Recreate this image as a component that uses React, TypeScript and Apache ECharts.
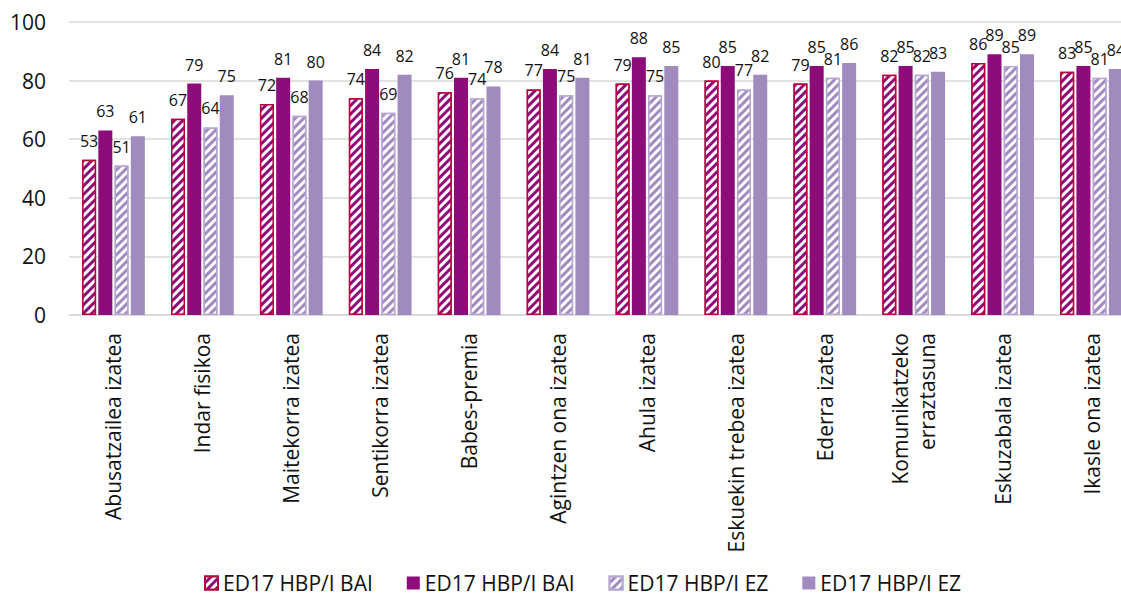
import React, { useEffect, useRef } from "react";
import * as echarts from "echarts";

const categories = [
  "Abusatzailea izatea",
  "Indar fisikoa",
  "Maitekorra izatea",
  "Sentikorra izatea",
  "Babes-premia",
  "Agintzen ona izatea",
  "Ahula izatea",
  "Eskuekin trebea izatea",
  "Ederra izatea",
  "Komunikatzeko\nerraztasuna",
  "Eskuzabala izatea",
  "Ikasle ona izatea",
];

// Legend texts (two pairs share a text); trailing spaces only keep series ids unique
const seriesNames = ["ED17 HBP/I BAI", "ED17 HBP/I BAI ", "ED17 HBP/I EZ", "ED17 HBP/I EZ "];

const baiHatched = [53, 67, 72, 74, 76, 77, 79, 80, 79, 82, 86, 83];
const baiSolid = [63, 79, 81, 84, 81, 84, 88, 85, 85, 85, 89, 85];
const ezHatched = [51, 64, 68, 69, 74, 75, 75, 77, 81, 82, 85, 81];
const ezSolid = [61, 75, 80, 82, 78, 81, 85, 82, 86, 83, 89, 84];

const yMin = 0;
const yMax = 100;
const yStep = 20;

export default function App() {
  const ref = useRef<HTMLDivElement>(null);
  useEffect(() => {
    document.body.style.margin = "0";
    document.body.style.overflow = "hidden";
    document.documentElement.style.overflow = "hidden";
    const chart = echarts.init(ref.current!, null, { renderer: "svg" });
    const font = "'Open Sans', 'Noto Sans', sans-serif";
    const decal = {
      symbol: "rect",
      symbolSize: 1,
      color: "rgba(255,255,255,1)",
      dashArrayX: [1, 0],
      dashArrayY: [2.5, 3],
      rotation: -Math.PI / 4,
    };
    const label = {
      show: true,
      position: "top",
      distance: 11,
      color: "#111",
      fontSize: 16,
      fontFamily: font,
    };
    const mk = (i: number, data: number[], color: string, border: string | null, hatched: boolean) => ({
      name: seriesNames[i],
      type: "bar",
      data,
      barWidth: 14,
      barGap: "16%",
      label,
      itemStyle: {
        color,
        borderColor: border || color,
        borderWidth: border ? 1.5 : 0,
        decal: hatched ? decal : undefined,
      },
    });
    chart.setOption({
      animation: false,
      textStyle: { fontFamily: font },
      grid: { left: 69, right: 4, top: 22, bottom: 284 },
      legend: {
        top: 566,
        left: 199,
        itemWidth: 13,
        itemHeight: 13,
        itemGap: 34,
        icon: "rect",
        formatter: (n: string) => n.trim(),
        textStyle: { fontSize: 21, color: "#111", fontFamily: font, lineHeight: 24 },
        data: seriesNames.map((n) => ({ name: n })),
      },
      xAxis: {
        type: "category",
        data: categories,
        axisLine: { show: true, lineStyle: { color: "#D9D9D9", width: 1.5 } },
        axisTick: { show: false },
        axisLabel: {
          rotate: 90,
          interval: 0,
          fontSize: 21,
          color: "#111",
          margin: 18,
          lineHeight: 27,
          fontFamily: font,
        },
      },
      yAxis: {
        type: "value",
        min: yMin,
        max: yMax,
        interval: yStep,
        axisLine: { show: false },
        axisTick: { show: false },
        splitLine: { lineStyle: { color: "#D9D9D9", width: 1.5 } },
        axisLabel: { fontSize: 21, color: "#111", margin: 23, fontFamily: font },
      },
      series: [
        mk(0, baiHatched, "#8E0C7A", "#B8003C", true),
        mk(1, baiSolid, "#8E0C7A", null, false),
        mk(2, ezHatched, "#A08ABE", "#B7A6D1", true),
        mk(3, ezSolid, "#A08ABE", null, false),
      ],
    });
    return () => chart.dispose();
  }, []);
  return (
    <div
      ref={ref}
      style={{ position: "absolute", left: 0, top: 0, width: 1140, height: 599 }}
    />
  );
}
